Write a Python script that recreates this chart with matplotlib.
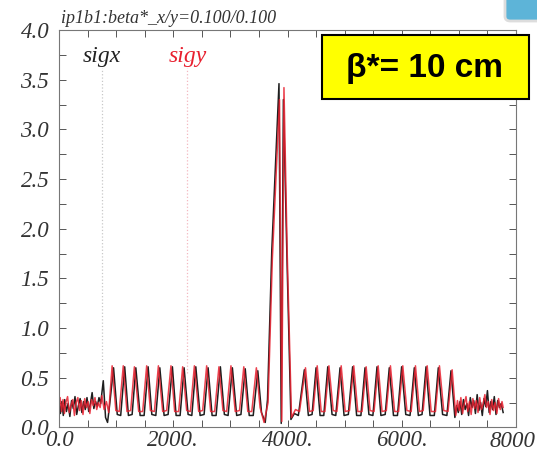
import matplotlib
matplotlib.use('Agg')
import matplotlib.pyplot as plt
from matplotlib.patches import Rectangle, FancyBboxPatch
from matplotlib.ticker import MultipleLocator, FormatStrFormatter

# sigx (black): s [m], sigma
sigx_s = [0, 25, 50, 75, 100, 130, 160, 190, 220, 250, 280, 310, 340, 370, 400, 430, 460, 490, 520, 550,
          580, 610, 640, 670, 700, 730, 775, 815, 850, 885,
          955, 1020, 1080, 1150, 1215, 1280, 1345, 1420, 1490, 1560, 1625, 1695, 1765, 1840, 1910, 1985,
          2050, 2120, 2190, 2260, 2325, 2395, 2470, 2540, 2610, 2680, 2750, 2825, 2895, 2960, 3035, 3110,
          3185, 3260, 3330, 3400, 3480, 3545, 3610,
          3650, 3725, 3851, 3890, 3928, 3990, 4060, 4120, 4190,
          4295, 4365, 4430, 4500, 4570, 4635, 4705, 4780, 4845, 4920, 4990, 5065, 5140, 5210, 5285, 5357,
          5425, 5495, 5567, 5635, 5710, 5782, 5855, 5925, 5998, 6070, 6145, 6220, 6290, 6355, 6425, 6495,
          6570, 6640, 6715, 6790, 6862,
          6930, 6960, 6990, 7020, 7050, 7080, 7110, 7140, 7170, 7200, 7230, 7260, 7290, 7320, 7350, 7380,
          7410, 7440, 7470, 7500, 7530, 7560, 7590, 7620, 7650, 7680, 7710, 7740, 7775]
sigx_v = [0.27, 0.14, 0.26, 0.12, 0.28, 0.16, 0.24, 0.11, 0.27, 0.19, 0.31, 0.13, 0.22, 0.29, 0.15, 0.26, 0.18, 0.30, 0.16, 0.24,
          0.35, 0.19, 0.26, 0.21, 0.30, 0.24, 0.47, 0.10, 0.05, 0.22,
          0.60, 0.13, 0.12, 0.61, 0.12, 0.13, 0.60, 0.12, 0.12, 0.61, 0.13, 0.12, 0.60, 0.12, 0.13, 0.61,
          0.12, 0.12, 0.60, 0.13, 0.12, 0.61, 0.12, 0.13, 0.60, 0.12, 0.12, 0.61, 0.13, 0.12, 0.60, 0.12,
          0.13, 0.59, 0.12, 0.12, 0.57, 0.15, 0.05,
          0.28, 1.78, 3.46, 0.04, 3.30, 1.72, 0.08, 0.14, 0.12,
          0.58, 0.12, 0.13, 0.60, 0.12, 0.12, 0.61, 0.13, 0.12, 0.60, 0.12, 0.13, 0.61, 0.12, 0.12, 0.60,
          0.13, 0.12, 0.61, 0.12, 0.13, 0.60, 0.12, 0.12, 0.61, 0.13, 0.12, 0.60, 0.12, 0.13, 0.61, 0.12,
          0.12, 0.60, 0.13, 0.12, 0.57,
          0.10, 0.22, 0.15, 0.26, 0.13, 0.28, 0.18, 0.24, 0.12, 0.30, 0.20, 0.27, 0.14, 0.33, 0.17, 0.25,
          0.12, 0.29, 0.21, 0.37, 0.15, 0.26, 0.18, 0.31, 0.13, 0.27, 0.20, 0.24, 0.15]

# sigy (red)
sigy_s = [0, 20, 45, 70, 95, 120, 150, 180, 210, 240, 270, 300, 330, 360, 390, 420, 450, 480, 510, 540,
          570, 600, 630, 660, 690, 720, 750, 790, 830, 870,
          930, 995, 1055, 1125, 1190, 1255, 1320, 1395, 1465, 1535, 1600, 1670, 1740, 1815, 1885, 1960,
          2025, 2095, 2165, 2235, 2300, 2370, 2445, 2515, 2585, 2655, 2725, 2800, 2870, 2935, 3010, 3085,
          3160, 3235, 3305, 3375, 3455, 3520, 3590,
          3660, 3735, 3860, 3900, 3938, 3995, 4070, 4140, 4210,
          4315, 4385, 4450, 4520, 4590, 4655, 4725, 4800, 4865, 4940, 5010, 5085, 5160, 5230, 5305, 5377,
          5445, 5515, 5587, 5655, 5730, 5802, 5875, 5945, 6018, 6090, 6165, 6240, 6310, 6375, 6445, 6515,
          6590, 6660, 6735, 6810, 6882,
          6945, 6975, 7005, 7035, 7065, 7095, 7125, 7155, 7185, 7215, 7245, 7275, 7305, 7335, 7365, 7395,
          7425, 7455, 7485, 7515, 7545, 7575, 7605, 7635, 7665, 7695, 7725, 7755, 7775]
sigy_v = [0.20, 0.30, 0.16, 0.28, 0.14, 0.25, 0.31, 0.15, 0.22, 0.28, 0.12, 0.25, 0.30, 0.17, 0.27, 0.13, 0.29, 0.20, 0.26, 0.14,
          0.28, 0.22, 0.30, 0.18, 0.25, 0.20, 0.32, 0.18, 0.26, 0.15,
          0.62, 0.17, 0.16, 0.62, 0.16, 0.17, 0.61, 0.16, 0.16, 0.62, 0.17, 0.16, 0.62, 0.16, 0.17, 0.62,
          0.16, 0.16, 0.61, 0.17, 0.16, 0.62, 0.16, 0.17, 0.62, 0.16, 0.16, 0.61, 0.17, 0.16, 0.62, 0.16,
          0.17, 0.61, 0.16, 0.16, 0.60, 0.20, 0.05,
          0.25, 1.70, 3.30, 0.06, 3.42, 1.75, 0.10, 0.18, 0.16,
          0.60, 0.16, 0.17, 0.62, 0.16, 0.16, 0.62, 0.17, 0.16, 0.62, 0.16, 0.17, 0.62, 0.16, 0.16, 0.61,
          0.17, 0.16, 0.62, 0.16, 0.17, 0.62, 0.16, 0.16, 0.62, 0.17, 0.16, 0.62, 0.16, 0.17, 0.62, 0.16,
          0.16, 0.62, 0.17, 0.16, 0.58,
          0.12, 0.27, 0.17, 0.30, 0.14, 0.24, 0.31, 0.16, 0.26, 0.13, 0.29, 0.19, 0.27, 0.15, 0.30, 0.18,
          0.24, 0.33, 0.20, 0.26, 0.13, 0.28, 0.17, 0.25, 0.14, 0.29, 0.18, 0.26, 0.20]

xticks = [0, 2000, 4000, 6000, 8000]
xtick_labels = ['0.0', '2000.', '4000.', '6000.', '8000']
title = 'ip1b1:beta*_x/y=0.100/0.100'
marker_s = {'sigx': 750, 'sigy': 2240}

W, H = 537, 453
fig = plt.figure(figsize=(W / 100, H / 100), dpi=100)
ax = fig.add_axes([59 / W, 1 - 427.4 / H, (516 - 59) / W, (427.4 - 30) / H])

serif = 'Liberation Serif'

# faint marker lines under the labels
ax.plot([marker_s['sigx']] * 2, [0.55, 3.62], ls=':', color='#c8c8c8', lw=0.9)
ax.plot([marker_s['sigy']] * 2, [0.55, 3.62], ls=':', color='#f3b8c0', lw=0.9)

ax.plot(sigx_s, sigx_v, color='#1e1e1e', lw=1.1)
ax.plot(sigy_s, sigy_v, color='#e8202f', lw=1.1, alpha=0.85)

ax.set_xlim(0, 8000)
ax.set_ylim(0, 4.0)
# last label sits on the picture's right edge, drawn separately below
ax.set_xticks(xticks)
ax.set_xticklabels(xtick_labels[:-1] + [''])
ax.xaxis.set_minor_locator(MultipleLocator(500))
ax.yaxis.set_major_locator(MultipleLocator(0.5))
ax.yaxis.set_minor_locator(MultipleLocator(0.25))
ax.yaxis.set_major_formatter(FormatStrFormatter('%.1f'))
ax.tick_params(which='both', direction='in', top=True, right=True, length=5, width=0.7, color='#555555')
ax.tick_params(which='major', labelsize=16.5, labelcolor='#333333')
ax.tick_params(axis='x', which='major', pad=2)
ax.tick_params(axis='y', which='major', pad=7)
for lbl in ax.get_xticklabels() + ax.get_yticklabels():
    lbl.set_family(serif)
    lbl.set_style('italic')
for sp in ax.spines.values():
    sp.set_color('#777777')
    sp.set_linewidth(0.8)

fig.text(536 / W, 1 - 447 / H, xtick_labels[-1], fontsize=16.5, family=serif, style='italic', color='#333333',
         ha='right', va='baseline')

fig.text(61 / W, 1 - 23 / H, title, fontsize=13, family=serif, style='italic', color='#333333', va='baseline')
fig.text(102 / W, 1 - 62 / H, 'sigx', fontsize=17, family=serif, style='italic', color='#222222',
         ha='center', va='baseline')
fig.text(188 / W, 1 - 62 / H, 'sigy', fontsize=17, family=serif, style='italic', color='#e8202f',
         ha='center', va='baseline')

# yellow beta* box
fig.patches.append(Rectangle((322 / W, 1 - 99 / H), (529 - 322) / W, (99 - 35) / H, transform=fig.transFigure,
                             facecolor='#ffff00', edgecolor='black', lw=1.5, zorder=5))
fig.text(425 / W, 1 - 68 / H, '\u03b2*= 10 cm', fontsize=24, fontweight='bold', family='Liberation Sans',
         ha='center', va='center', zorder=6)

# corner icon from the screenshot
fig.patches.append(FancyBboxPatch((505 / W, 1 - 21 / H), 40 / W, 30 / H, boxstyle='round,pad=0,rounding_size=0.01',
                                  transform=fig.transFigure, facecolor='#5db4d8', edgecolor='#dddddd', lw=2))

fig.savefig('out.png', dpi=100)
